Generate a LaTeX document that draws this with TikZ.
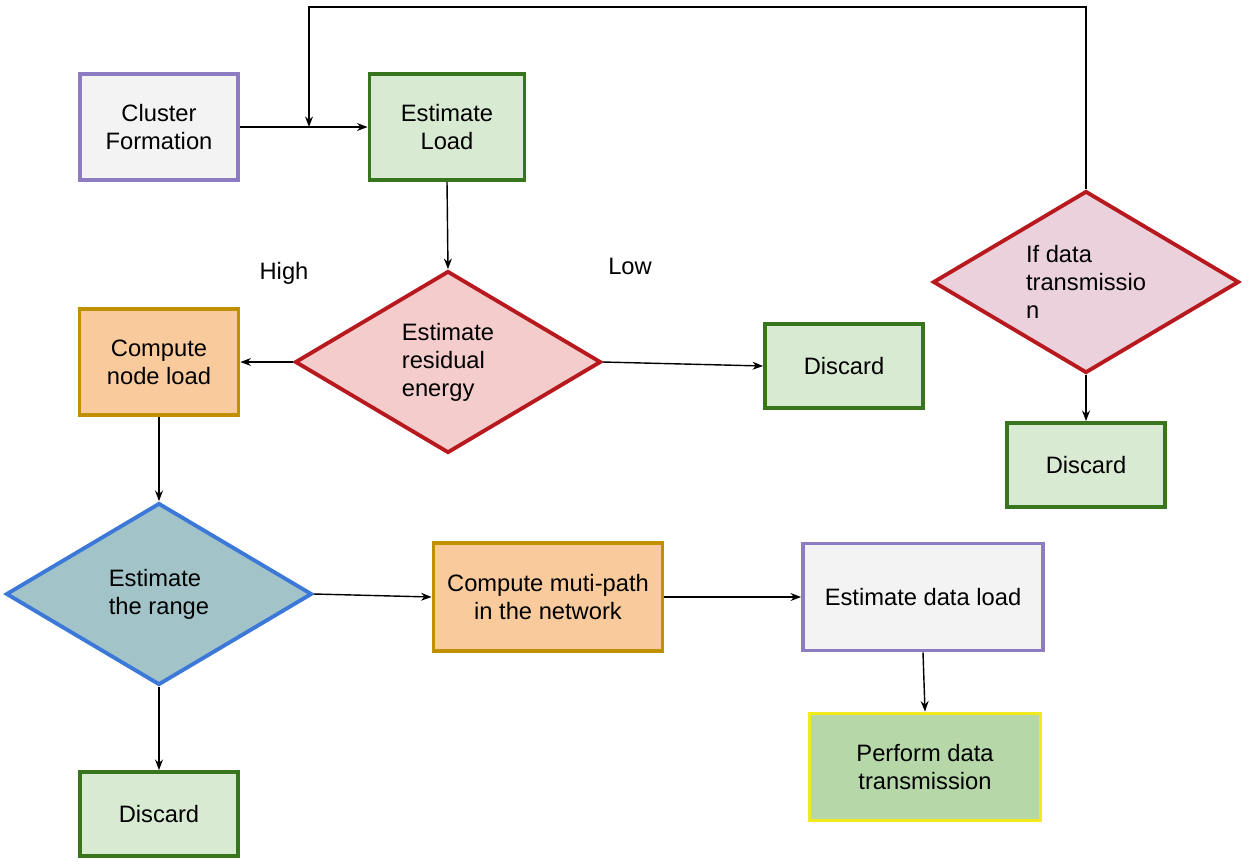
\documentclass[tikz,border=0pt]{standalone}
\usepackage{fontspec}
\setmainfont{Liberation Sans}
\usetikzlibrary{shapes.geometric,arrows.meta}
\definecolor{lilacline}{HTML}{8E7CC3}
\definecolor{greyfill}{HTML}{F3F3F3}
\definecolor{greenline}{HTML}{38761D}
\definecolor{greenfill}{HTML}{D9EAD3}
\definecolor{redline}{HTML}{B7191F}
\definecolor{rosefill}{HTML}{F4CCCC}
\definecolor{mauvefill}{HTML}{EAD1DC}
\definecolor{goldline}{HTML}{BF9000}
\definecolor{orangefill}{HTML}{F9CB9C}
\definecolor{blueline}{HTML}{3C78D8}
\definecolor{tealfill}{HTML}{A2C4C9}
\definecolor{yellowline}{HTML}{F2EA1E}
\definecolor{leaffill}{HTML}{B6D7A8}
\tikzset{
	box/.style={draw, line width=2.2pt, minimum width=3.16cm, minimum height=2.12cm, align=center, font=\fontsize{13.5}{16}\selectfont},
	discardbox/.style={box, draw=greenline, fill=greenfill, minimum height=1.68cm},
	decision/.style={diamond, draw, line width=2.2pt, aspect=1.7, inner sep=1pt, minimum width=6.12cm, minimum height=3.64cm, align=left, font=\fontsize{13.5}{16}\selectfont},
	link/.style={-{Stealth[length=6pt,width=4.5pt]}, line width=0.8pt}
}
\begin{document}
\begin{tikzpicture}[x=0.02cm, y=-0.02cm]
	\useasboundingbox (0,0) rectangle (1250,866);
	% top row
	\node[box, draw=lilacline, fill=greyfill] (cluster) at (159,127) {Cluster\\Formation};
	\node[box, draw=greenline, fill=greenfill, minimum width=3.1cm] (estload) at (447,127) {Estimate\\Load};
	\node[decision, draw=redline, fill=mauvefill] (ifdata) at (1086,282) {If data\\transmissio\\n};
	\node[discardbox] (discardr) at (1086,465) {Discard};
	% middle row
	\node[decision, draw=redline, fill=rosefill] (residual) at (448,362) {Estimate\\residual\\energy};
	\node[box, draw=goldline, fill=orangefill, minimum width=3.18cm] (nodeload) at (159,362) {Compute\\node load};
	\node[discardbox] (discardm) at (844,366) {Discard};
	\node[font=\fontsize{13.5}{16}\selectfont] (high) at (284,273) {High};
	\node[font=\fontsize{13.5}{16}\selectfont] (low) at (630,266) {Low};
	% bottom rows
	\node[decision, draw=blueline, fill=tealfill] (range) at (159,594) {Estimate\\the range};
	\node[discardbox] (discardl) at (159,814) {Discard};
	\node[box, draw=goldline, fill=orangefill, minimum width=4.58cm, minimum height=2.16cm] (multipath) at (548,597) {Compute muti-path\\in the network};
	\node[box, draw=lilacline, fill=greyfill, minimum width=4.8cm, minimum height=2.14cm] (dataload) at (923,597) {Estimate data load};
	\node[box, draw=yellowline, fill=leaffill, minimum width=4.62cm, minimum height=2.14cm] (perform) at (925,767) {Perform data\\transmission};
	% feedback loop
	\coordinate (looptop) at (309,7);
	\coordinate (loopend) at (309,127);
	% connectors
	\draw[link] (cluster.east) -- (estload.west);
	\draw[link] (ifdata.north) |- (looptop) -- (loopend);
	\draw[link] (estload.south) -- (residual.north);
	\draw[link] (residual.west) -- (nodeload.east);
	\draw[link] (residual.east) -- (discardm.west);
	\draw[link] (ifdata.south) -- (discardr.north);
	\draw[link] (nodeload.south) -- (range.north);
	\draw[link] (range.south) -- (discardl.north);
	\draw[link] (range.east) -- (multipath.west);
	\draw[link] (multipath.east) -- (dataload.west);
	\draw[link] (dataload.south) -- (perform.north);
\end{tikzpicture}
\end{document}
